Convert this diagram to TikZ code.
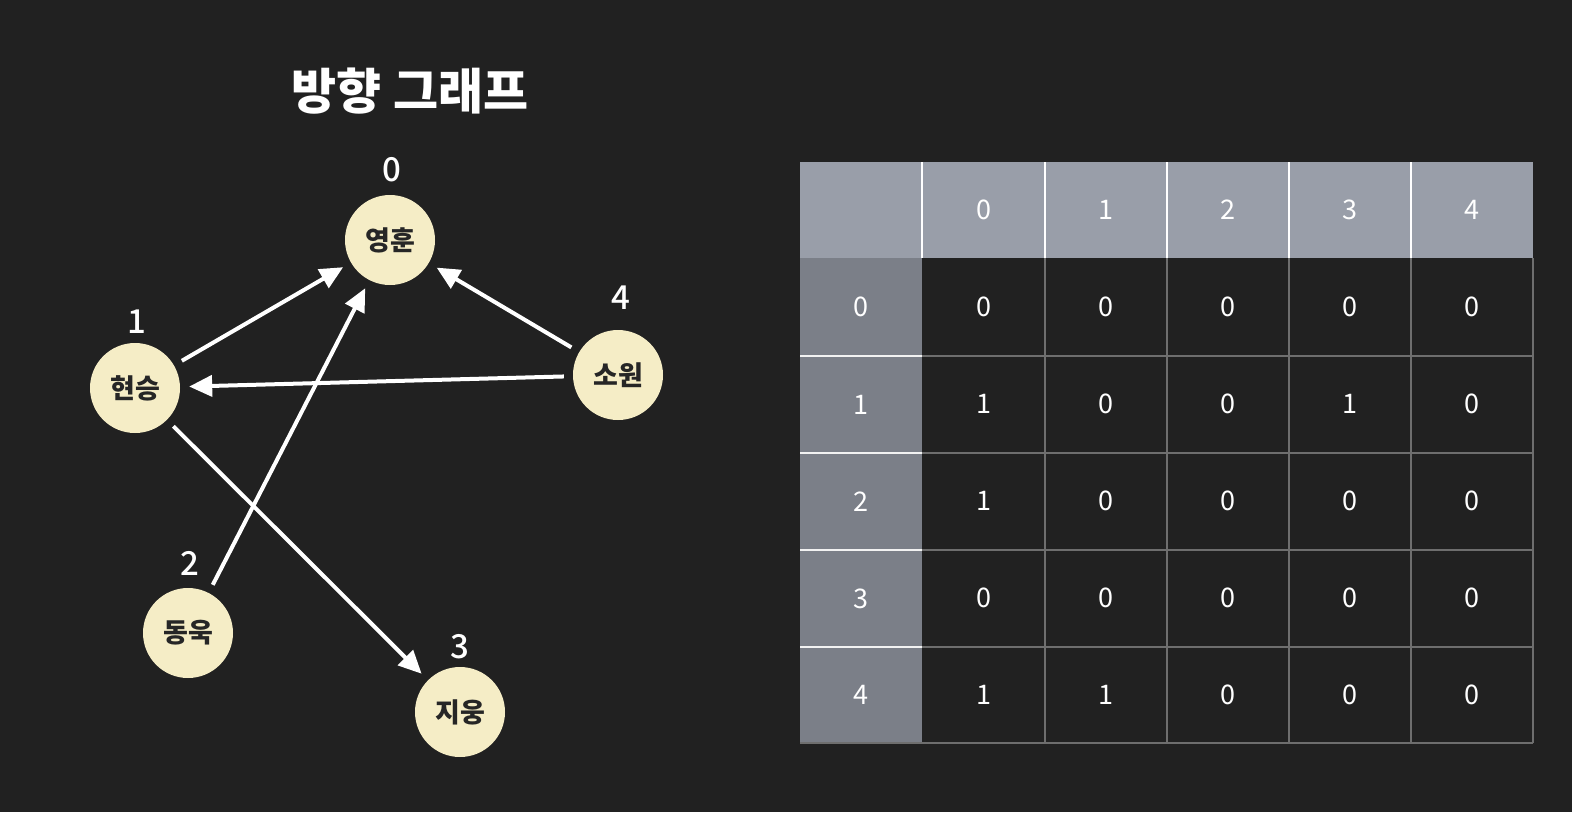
\documentclass[tikz,border=0pt]{standalone}
\usepackage{fontspec}
\newfontfamily\kr{Noto Sans CJK KR}
\newfontfamily\krm{Noto Sans CJK KR Medium}
\newfontfamily\krblack{Noto Sans CJK KR Black}
\usetikzlibrary{arrows.meta}
\definecolor{bg}{HTML}{212121}
\definecolor{nodefill}{HTML}{F5EDC6}
\definecolor{hdr}{HTML}{999EA9}
\definecolor{rowhdr}{HTML}{7B7F88}
\definecolor{grid}{HTML}{6E6E6E}
\tikzset{
  vert/.style={circle, fill=nodefill, minimum size=90pt, inner sep=0pt, font=\kr\bfseries\fontsize{27}{27}\selectfont, text=black!85},
  num/.style={font=\krm\fontsize{33}{33}\selectfont, text=white, inner sep=0pt},
  edge/.style={draw=white, line width=4pt, shorten >=9pt, shorten <=9pt, -{Triangle[length=23pt,width=21pt]}},
  cell/.style={font=\kr\fontsize{27}{27}\selectfont, text=white, inner sep=0pt},
  title/.style={font=\krblack\fontsize{49}{49}\selectfont, text=white, inner sep=0pt}
}
\begin{document}
\begin{tikzpicture}[x=1pt,y=-1pt]
\fill[bg] (0,0) rectangle (1572,812);
\useasboundingbox (0,0) rectangle (1572,812);
\node[title] (title) at (410,91) {방향 그래프};
% vertices
\node[vert] (n0) at (390,240) {영훈};
\node[vert] (n1) at (135,388) {현승};
\node[vert] (n2) at (188,633) {동욱};
\node[vert] (n3) at (460,712) {지웅};
\node[vert] (n4) at (618,375) {소원};
\node[num] (l0) at (392,170) {0};
\node[num] (l1) at (137,322) {1};
\node[num] (l2) at (190,563) {2};
\node[num] (l3) at (460,647) {3};
\node[num] (l4) at (621,298) {4};
% edges
\draw[edge] (n1) -- (n0);
\draw[edge] (n2) -- (n0);
\draw[edge] (n4) -- (n0);
\draw[edge] (n4) -- (n1);
\draw[edge] (n1) -- (n3);
% table
\fill[hdr] (800,162) rectangle (1533,258);
\fill[rowhdr] (800,258) rectangle (922,743);
\foreach \x in {1045,1167,1289,1411,1533}
  \draw[grid, line width=1.2pt] (\x,258) -- (\x,743);
\foreach \y in {356,453,550,647,743}
  \draw[grid, line width=1.2pt] (922,\y) -- (1533,\y);
\draw[grid, line width=1.2pt] (800,743) -- (922,743);
\foreach \x in {922,1045,1167,1289,1411}
  \draw[white, line width=1.8pt] (\x,162) -- (\x,258);
\foreach \y in {356,453,550,647}
  \draw[white!90!gray, line width=1.8pt] (800,\y) -- (922,\y);
\foreach \c [count=\i from 0] in {983.5,1106,1228,1350,1472}
  \node[cell] (h\i) at (\c,210) {\i};
\foreach \r [count=\i from 0] in {307,404.5,501.5,598.5,695}
  \node[cell] (r\i) at (861,\r) {\i};
\foreach \v [count=\k from 0] in {0,0,0,0,0, 1,0,0,1,0, 1,0,0,0,0, 0,0,0,0,0, 1,1,0,0,0}{
  \pgfmathtruncatemacro{\row}{int(\k/5)}
  \pgfmathtruncatemacro{\col}{mod(\k,5)}
  \pgfmathsetmacro{\cx}{983.5+122.1*\col}
  \pgfmathsetmacro{\cy}{307+97*\row}
  \node[cell] (c\row\col) at (\cx,\cy) {\v};
}
\end{tikzpicture}
\end{document}
